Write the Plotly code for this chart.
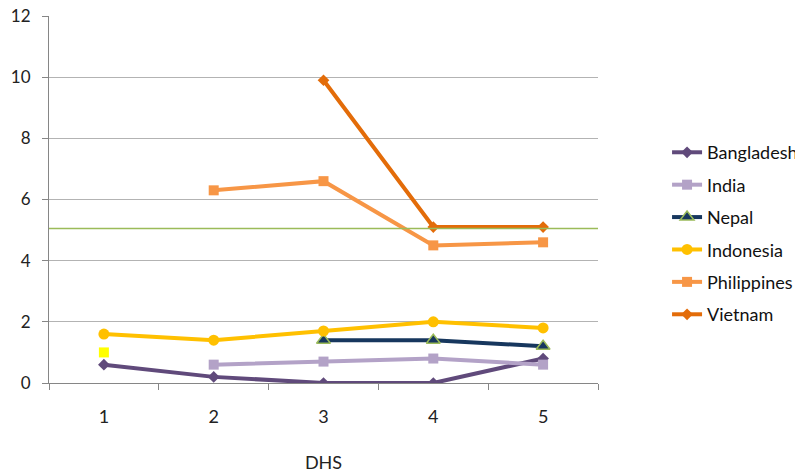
import plotly.graph_objects as go

categories = ["1", "2", "3", "4", "5"]
bangladesh = [0.6, 0.2, 0.0, 0.0, 0.8]
india = [None, 0.6, 0.7, 0.8, 0.6]
nepal = [None, None, 1.4, 1.4, 1.2]
indonesia = [1.6, 1.4, 1.7, 2.0, 1.8]
philippines = [None, 6.3, 6.6, 4.5, 4.6]
vietnam = [None, None, 9.9, 5.1, 5.1]
extra_point = [1.0, None, None, None, None]
threshold = 5.05
y_ticks = [0, 2, 4, 6, 8, 10, 12]

FONT = "Lato, Open Sans, sans-serif"

series = [
    ("Bangladesh", bangladesh, "#604A7B", "diamond", 9, None),
    ("India", india, "#B3A2C7", "square", 10, None),
    ("Nepal", nepal, "#17375E", "triangle-up", 12, "#9BBB59"),
    ("Indonesia", indonesia, "#FFC000", "circle", 11, None),
    ("Philippines", philippines, "#F79646", "square", 10, None),
    ("Vietnam", vietnam, "#E36C09", "diamond", 9, None),
]

fig = go.Figure()
for i, (name, vals, color, sym, size, outline) in enumerate(series):
    fig.add_trace(go.Scatter(
        x=categories, y=vals, name=name, mode="lines+markers",
        legendgroup=f"g{i}",
        line=dict(color=color, width=4),
        marker=dict(symbol=sym, size=size, color=color,
                    line=dict(color=outline if outline else color, width=1.5 if outline else 0)),
    ))

fig.add_trace(go.Scatter(
    x=categories, y=extra_point, mode="markers", showlegend=False,
    marker=dict(symbol="square", size=10, color="#FFFF00"),
))

fig.add_shape(type="line", xref="paper", x0=0, x1=1, yref="y", y0=threshold, y1=threshold,
              line=dict(color="#9BBB59", width=1.5), layer="above")

fig.update_layout(
    width=795, height=468, autosize=False,
    margin=dict(l=41, r=205, t=8, b=93, autoexpand=False),
    paper_bgcolor="white", plot_bgcolor="white",
    font=dict(family=FONT, size=18, color="#222222"),
    legend=dict(xref="container", yref="container", x=0.829, y=0.518,
                xanchor="left", yanchor="middle", bgcolor="rgba(0,0,0,0)",
                font=dict(family=FONT, size=18, color="#111111"),
                tracegroupgap=6, itemwidth=30),
    xaxis=dict(type="category", categoryorder="array", categoryarray=categories,
               tickson="boundaries", ticks="outside", ticklen=6, tickcolor="#868686",
               showline=True, linecolor="#868686", linewidth=1, showgrid=False,
               automargin=False, ticklabelstandoff=17, ticklabeloverflow="allow",
               title=dict(text="DHS", font=dict(family=FONT, size=18), standoff=30),
               tickfont=dict(family=FONT, size=18), range=[-0.5, 4.5]),
    yaxis=dict(range=[0, 12], tickvals=y_ticks, ticks="outside", ticklen=6,
               tickcolor="#868686", showline=True, linecolor="#868686", linewidth=1,
               gridcolor="#B3B3B3", gridwidth=1.2, zeroline=False,
               automargin=False, ticklabelstandoff=8, ticklabeloverflow="allow",
               tickfont=dict(family=FONT, size=17)),
)

fig.write_html("out.html")
